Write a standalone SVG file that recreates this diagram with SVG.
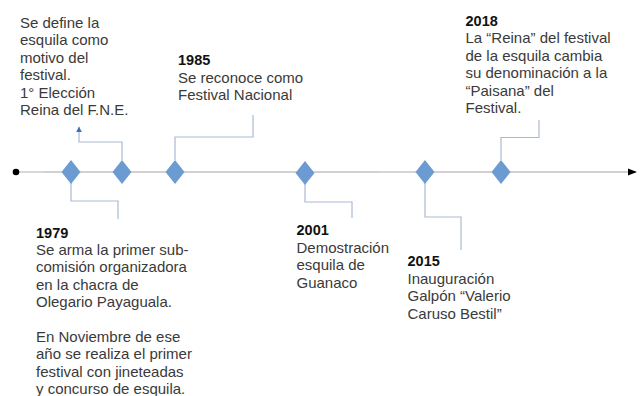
<svg xmlns="http://www.w3.org/2000/svg" width="640" height="396" viewBox="0 0 640 396">
<defs>
<style>
.t{font-family:"Liberation Sans",Arial,sans-serif;font-size:15px;fill:#3a3a3a}
.y{font-weight:bold;fill:#111;font-size:14.5px}
.c{fill:none;stroke:#a9b9d3;stroke-width:1.2}
.d{fill:#6c9bd1}
</style>
<marker id="ah" viewBox="0 0 10 10" refX="9" refY="5" markerWidth="5" markerHeight="5" orient="auto">
<path d="M0,0 L10,5 L0,10 z" fill="#3f6fb6"/>
</marker>
<marker id="tl" viewBox="0 0 10 10" refX="9" refY="5" markerWidth="9" markerHeight="9" markerUnits="userSpaceOnUse" orient="auto">
<path d="M0,1 L10,5 L0,9 z" fill="#000"/>
</marker>
</defs>
<rect width="640" height="396" fill="#fff"/>
<g id="timeline">
<line x1="16" y1="172" x2="636" y2="172" stroke="#a3a3a3" stroke-width="1.2" marker-end="url(#tl)"/>
<line x1="20" y1="172" x2="44" y2="172" stroke="#dadada" stroke-width="1.2"/>
<line x1="378" y1="172" x2="414" y2="172" stroke="#dadada" stroke-width="1.2"/>
<circle cx="16" cy="172" r="3.3" fill="#000"/>
</g>
<g id="connectors">
<polyline class="c" points="71,183 71,201 118,201 118,219"/>
<polyline class="c" points="122,160 122,142 79,142 79,127" marker-end="url(#ah)"/>
<polyline class="c" points="175,160 175,137 253,137 253,115"/>
<polyline class="c" points="305,184 305,202 352,202 352,218"/>
<polyline class="c" points="425,183 425,217 461,217 461,250"/>
<polyline class="c" points="501,160 501,137.5 539,137.5 539,120"/>
</g>
<g id="m1979"><polygon class="d" points="71,160 80.5,172 71,184 61.5,172"/></g>
<g id="m1979b"><polygon class="d" points="122,160 131.5,172 122,184 112.5,172"/></g>
<g id="m1985"><polygon class="d" points="175,160 184.5,172 175,184 165.5,172"/></g>
<g id="m2001"><polygon class="d" points="305,161 314.5,173 305,185 295.5,173"/></g>
<g id="m2015"><polygon class="d" points="425,160 434.5,172 425,184 415.5,172"/></g>
<g id="m2018"><polygon class="d" points="501,160 510.5,172 501,184 491.5,172"/></g>
<g id="label-fne">
<text class="t" x="20" y="27.5">Se define la</text>
<text class="t" x="20" y="45">esquila como</text>
<text class="t" x="20" y="62.5">motivo del</text>
<text class="t" x="20" y="80">festival.</text>
<text class="t" x="20" y="97.5">1° Elección</text>
<text class="t" x="20" y="115">Reina del F.N.E.</text>
</g>
<g id="label-1985">
<text class="t y" x="178" y="65">1985</text>
<text class="t" x="178" y="82.5">Se reconoce como</text>
<text class="t" x="178" y="100">Festival Nacional</text>
</g>
<g id="label-2018">
<text class="t y" x="465.5" y="25.5">2018</text>
<text class="t" x="465.5" y="43">La “Reina” del festival</text>
<text class="t" x="465.5" y="60.5">de la esquila cambia</text>
<text class="t" x="465.5" y="78">su denominación a la</text>
<text class="t" x="465.5" y="95.5">“Paisana” del</text>
<text class="t" x="465.5" y="113">Festival.</text>
</g>
<g id="label-1979">
<text class="t y" x="36" y="237.5">1979</text>
<text class="t" x="36" y="255">Se arma la primer sub-</text>
<text class="t" x="36" y="272.4">comisión organizadora</text>
<text class="t" x="36" y="289.8">en la chacra de</text>
<text class="t" x="36" y="307.2">Olegario Payaguala.</text>
<text class="t" x="36" y="342">En Noviembre de ese</text>
<text class="t" x="36" y="359.4">año se realiza el primer</text>
<text class="t" x="36" y="376.8">festival con jineteadas</text>
<text class="t" x="36" y="394.2">y concurso de esquila.</text>
</g>
<g id="label-2001">
<text class="t y" x="296.5" y="235">2001</text>
<text class="t" x="296.5" y="252.5">Demostración</text>
<text class="t" x="296.5" y="270">esquila de</text>
<text class="t" x="296.5" y="287.5">Guanaco</text>
</g>
<g id="label-2015">
<text class="t y" x="407.5" y="266">2015</text>
<text class="t" x="407.5" y="283.5">Inauguración</text>
<text class="t" x="407.5" y="301">Galpón “Valerio</text>
<text class="t" x="407.5" y="318.5">Caruso Bestil”</text>
</g>
</svg>
